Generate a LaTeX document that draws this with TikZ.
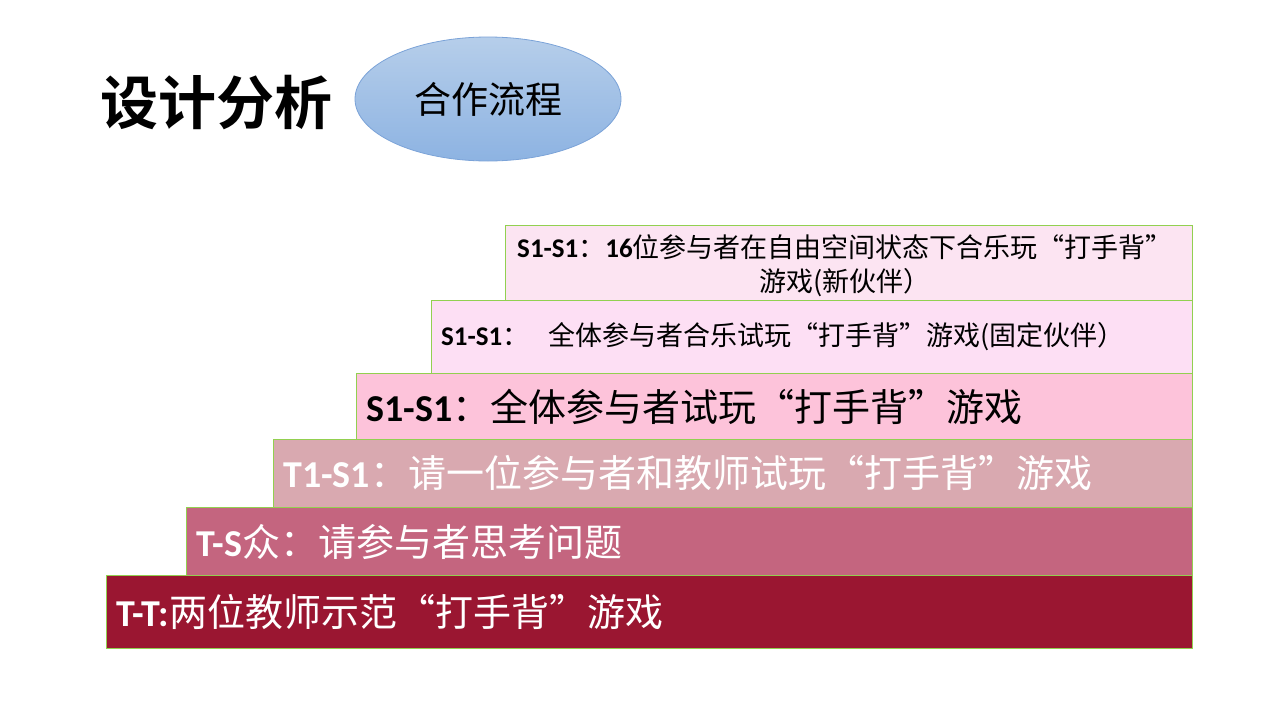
\documentclass[tikz,border=0pt]{standalone}
\usepackage{fontspec}
\usetikzlibrary{shapes.geometric}
\setmainfont{Carlito}
\newfontfamily\cjk{Noto Sans CJK SC}
\newfontfamily\cjkbold{Noto Sans CJK SC Bold}
\newcommand\latb[1]{{\rmfamily\bfseries #1}}
\definecolor{barline}{HTML}{92D050}
\definecolor{cA}{HTML}{9A1631}
\definecolor{cB}{HTML}{C4657F}
\definecolor{cC}{HTML}{D9A9B0}
\definecolor{cD}{HTML}{FDC3DA}
\definecolor{cE}{HTML}{FDDFF4}
\definecolor{cF}{HTML}{FCE4F2}
\definecolor{ovtop}{HTML}{B6CEEA}
\definecolor{ovbot}{HTML}{8DB3E2}
\definecolor{ovline}{HTML}{7BA3D8}
\begin{document}
\begin{tikzpicture}[x=1pt,y=-1pt,
  bar/.style={draw=barline, line width=1pt, inner sep=0pt, anchor=north west},
  big/.style={anchor=west, inner sep=0pt, font=\fontsize{38}{40}\selectfont\cjk},
  small/.style={inner sep=0pt, font=\fontsize{27}{34}\selectfont\cjk},
]
\useasboundingbox (0,0) rectangle (1280,720);
\fill[white] (0,0) rectangle (1280,720);

% title
\node[anchor=west, inner sep=0pt, font=\fontsize{58}{60}\selectfont\cjkbold] (title) at (100,103) {设计分析};
\node[ellipse, draw=ovline, line width=0.8pt, top color=ovtop, bottom color=ovbot,
      minimum width=266pt, minimum height=124pt, inner sep=0pt,
      font=\fontsize{37}{40}\selectfont\cjk] (oval) at (488,99) {合作流程};

% bars
\node[bar, fill=cF, minimum width=687pt, minimum height=75pt] (b6) at (505,225) {};
\node[bar, fill=cE, minimum width=761pt, minimum height=73pt] (b5) at (431,300) {};
\node[bar, fill=cD, minimum width=836pt, minimum height=66pt] (b4) at (356,373) {};
\node[bar, fill=cC, minimum width=919pt, minimum height=68pt] (b3) at (273,439) {};
\node[bar, fill=cB, minimum width=1006pt, minimum height=68pt] (b2) at (186,507) {};
\node[bar, fill=cA, minimum width=1086pt, minimum height=73pt] (b1) at (106,575) {};

% texts
\node[big, text=white] (t1) at ([xshift=10pt]b1.west) {\latb{T-T:}两位教师示范“打手背”游戏};
\node[big, text=white] (t2) at ([xshift=10pt]b2.west) {\latb{T-S}众：请参与者思考问题};
\node[big, text=white] (t3) at ([xshift=10pt]b3.west) {\latb{T1-S1}：请一位参与者和教师试玩“打手背”游戏};
\node[big, text=black] (t4) at ([xshift=10pt]b4.west) {\latb{S1-S1}：全体参与者试玩“打手背”游戏};
\node[small, anchor=west, text=black] (t5) at ([xshift=10pt]b5.west) {\latb{S1-S1}：\hspace{19pt}全体参与者合乐试玩“打手背”游戏(固定伙伴）};
\node[small, align=center, text=black] (t6) at ([yshift=-3pt,xshift=-4pt]b6.center) {\latb{S1-S1}：\latb{16}位参与者在自由空间状态下合乐玩“打手背”\\游戏(新伙伴）};
\end{tikzpicture}
\end{document}
